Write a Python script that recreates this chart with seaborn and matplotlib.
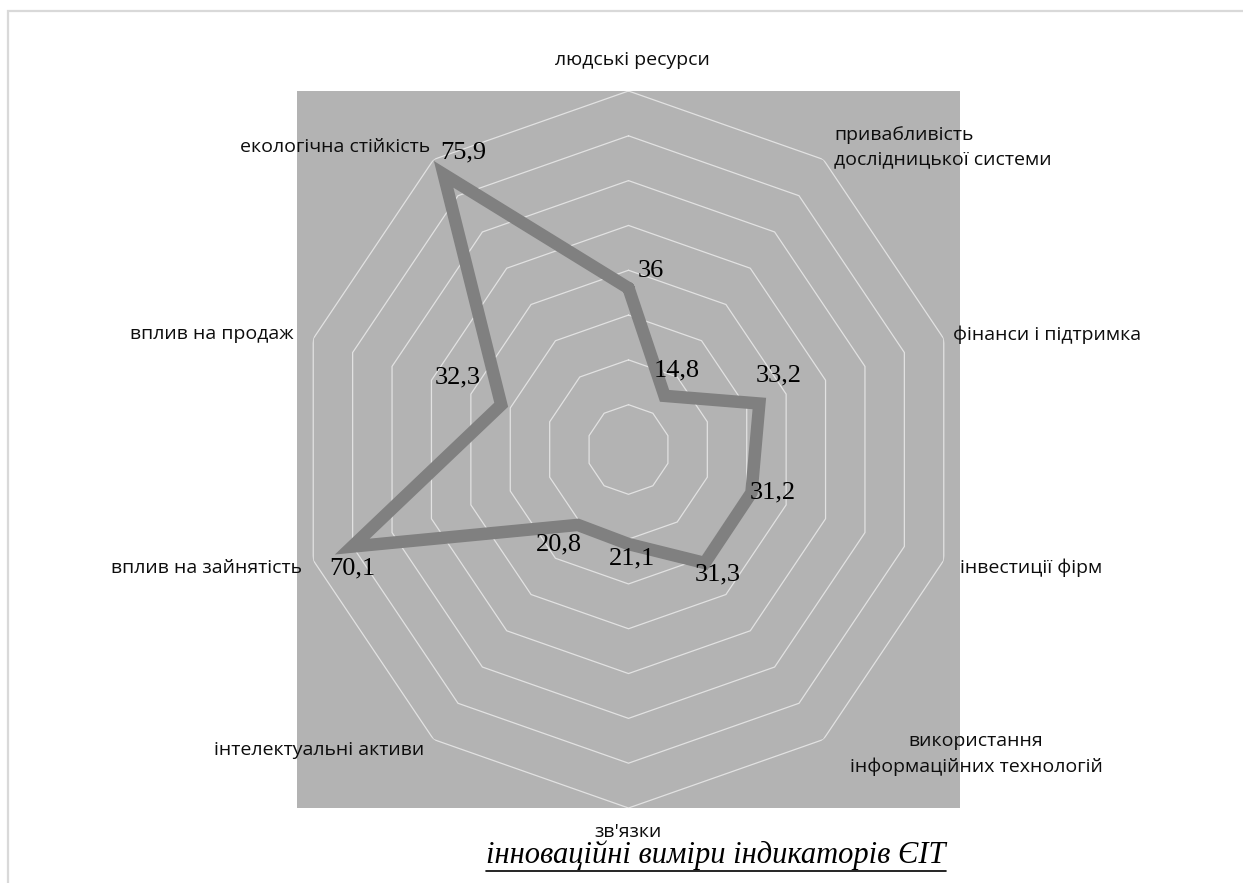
import numpy as np
import pandas as pd
import matplotlib
matplotlib.use("Agg")
import matplotlib.pyplot as plt
import seaborn as sns
from matplotlib.patches import Rectangle
from matplotlib.lines import Line2D

# --- data -------------------------------------------------------------
categories = [
    "людські ресурси",
    "привабливість\nдослідницької системи",
    "фінанси і підтримка",
    "інвестиції фірм",
    "використання\nінформаційних технологій",
    "зв'язки",
    "інтелектуальні активи",
    "вплив на зайнятість",
    "вплив на продаж",
    "екологічна стійкість",
]
values = [36, 14.8, 33.2, 31.2, 31.3, 21.1, 20.8, 70.1, 32.3, 75.9]
ring_levels = [10, 20, 30, 40, 50, 60, 70, 80]
r_max = 80
title = "інноваційні виміри індикаторів ЄІТ"

# --- style ------------------------------------------------------------
sns.set_theme(style="white")
plt.rcParams['font.family'] = ['Open Sans', 'DejaVu Sans']

W, H = 1243, 883
fig = plt.figure(figsize=(W / 100, H / 100), dpi=100)
fig.patch.set_facecolor("white")

def fx(px):
    return px / W

def fy(py):
    return 1 - py / H

# plot area (gray square, slightly squashed horizontally like the original)
pos = [fx(297), fy(808), fx(960) - fx(297), fy(91) - fy(808)]
bg = fig.add_axes(pos)
bg.set_facecolor("#b3b3b3")
bg.set_xticks([])
bg.set_yticks([])
for s in bg.spines.values():
    s.set_visible(False)

ax = fig.add_axes(pos, projection="polar")
ax.set_aspect("auto")
ax.patch.set_visible(False)
ax.set_theta_zero_location("N")
ax.set_theta_direction(-1)
ax.grid(False)
ax.spines["polar"].set_visible(False)

n = len(categories)
theta = np.arange(n) * 2 * np.pi / n
theta_closed = np.append(theta, theta[0])

# decagon grid rings
for lvl in ring_levels:
    ax.plot(theta_closed, [lvl] * (n + 1), color="#e2e2e2", lw=0.9, zorder=1)

# the series (estimator=None so the closing point is not averaged away)
df = pd.DataFrame({"theta": theta_closed, "value": values + values[:1]})
sns.lineplot(data=df, x="theta", y="value", ax=ax, sort=False, estimator=None,
             color="#808080", linewidth=9, solid_joinstyle="miter", zorder=3)
ax.set_xlabel("")
ax.set_ylabel("")
ax.set_xticks([])
ax.set_yticks([])
ax.set_ylim(0, r_max)

# data labels
label_offsets = [(22, 17), (12, 25), (19, 28), (21, 0), (13, -11),
                 (3, -14), (-19, -20), (0, -22), (-44, 27), (20, 22)]
for t, v, (dx, dy) in zip(theta, values, label_offsets):
    ax.annotate(f"{v:g}".replace(".", ","), xy=(t, v), xytext=(dx, dy),
                textcoords="offset pixels", ha="center", va="center",
                fontsize=19, family="Liberation Serif", color="black", zorder=5)

# category labels (placed like the Excel original)
cat_pos = [
    (632, 60, "center"),
    (834, 147, "left"),
    (953, 335, "left"),
    (960, 568, "left"),
    (976, 754, "center"),
    (628, 832, "center"),
    (424, 750, "right"),
    (302, 568, "right"),
    (294, 334, "right"),
    (430, 147, "right"),
]
for name, (px, py, ha) in zip(categories, cat_pos):
    fig.text(fx(px), fy(py), name, ha=ha, va="center", fontsize=14,
             color="#0d0d0d", linespacing=1.45, multialignment=ha)

# title, italic and underlined
t = fig.text(fx(716), fy(855), title, ha="center", va="center", fontsize=22,
             style="italic", family="Liberation Serif", color="black")
fig.canvas.draw()
bb = t.get_window_extent(renderer=fig.canvas.get_renderer())
fig.lines.append(Line2D([bb.x0 / W, bb.x1 / W], [fy(871), fy(871)],
                        transform=fig.transFigure, color="black", lw=1.2))

# thin outer frame of the chart object
fig.patches.append(Rectangle((fx(8), -0.05), 1.1, fy(11) + 0.05, transform=fig.transFigure,
                             fill=False, edgecolor="#d9d9d9", lw=1.6))

fig.savefig("out.png", dpi=100)
